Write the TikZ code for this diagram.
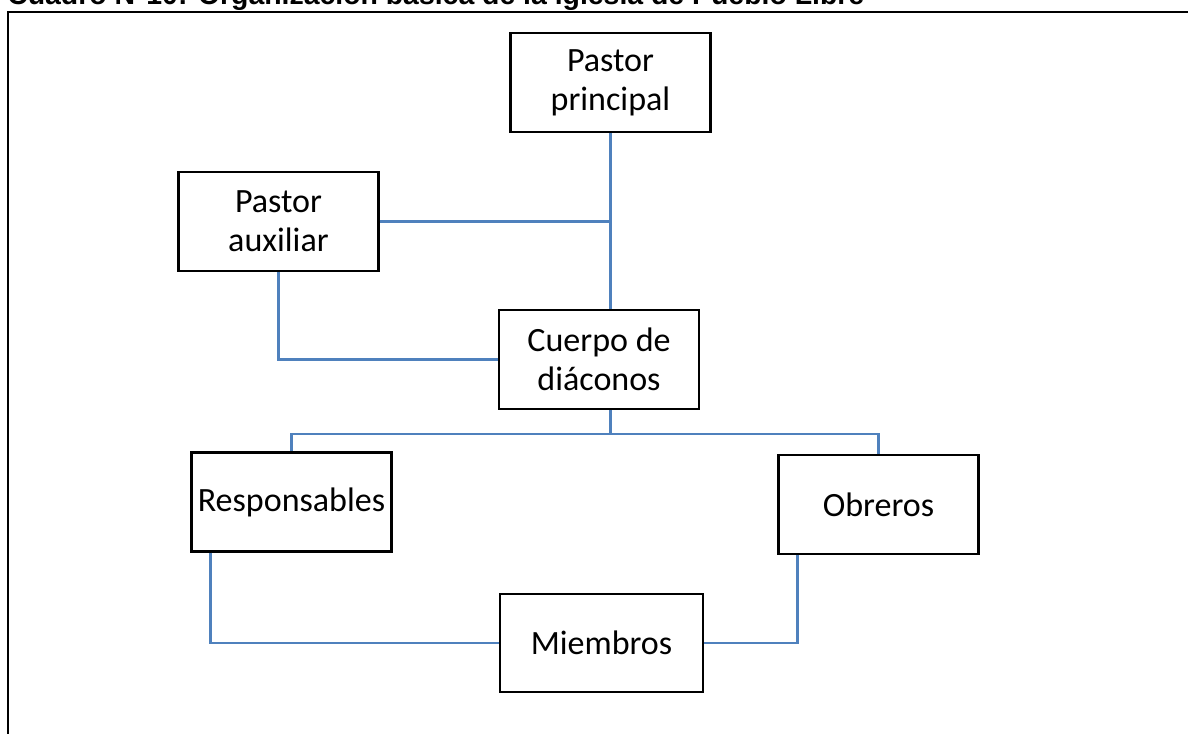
\documentclass[tikz,border=0pt]{standalone}
\usepackage{fontspec}
\usepackage{tikz}
\usepackage{xcolor}
\setmainfont{Carlito}
\newfontfamily\titlefont{Liberation Sans}
\definecolor{linkblue}{HTML}{4F81BD}
\usetikzlibrary{positioning, calc}

\begin{document}
\begin{tikzpicture}[x=0.025cm, y=-0.025cm,
    box/.style={draw=black, line width=1.6pt, fill=white, align=center,
        inner sep=0pt, minimum width=5cm, minimum height=2.47cm,
        font=\fontsize{24.2}{27.5}\selectfont},
    link/.style={draw=linkblue, line width=1.8pt}]
\useasboundingbox (0,0) rectangle (1188,734);

% Title and frame
\node[anchor=base west, inner sep=0pt, font=\titlefont\bfseries\fontsize{20.2}{24}\selectfont] (title) at (7,4.5) {Cuadro N°10: Organización básica de la iglesia de Pueblo Libre};
\draw[line width=1.6pt] (8,760) -- (8,12) -- (1210,12);

% Boxes
\node[box] (prin) at (610.5,82.5) {Pastor\\principal};
\node[box] (aux) at (278.5,221.5) {Pastor\\auxiliar};
\node[box] (cuerpo) at (599,359.5) {Cuerpo de\\diáconos};
\node[box] (resp) at (291.5,502) {Responsables};
\node[box] (obr) at (878.5,504.5) {Obreros};
\node[box, minimum width=5.08cm, minimum height=2.45cm] (miem) at (601.5,643) {Miembros};

% Links
\coordinate (cb) at (prin.south |- cuerpo.south);
\coordinate (rfoot) at ($(resp.south west)+(20,0)$);
\coordinate (ofoot) at ($(obr.south west)+(20,0)$);
\draw[link] (prin.south) -- (prin.south |- cuerpo.north);
\draw[link] (aux.east) -- (aux.east -| prin.south);
\draw[link] (aux.south) |- (cuerpo.west);
\draw[link] (cb) -- ++(0,24) -| (resp.north);
\draw[link] (cb) -- ++(0,24) -| (obr.north);
\draw[link] (rfoot) |- (miem.west);
\draw[link] (ofoot) |- (miem.east);
\end{tikzpicture}
\end{document}
